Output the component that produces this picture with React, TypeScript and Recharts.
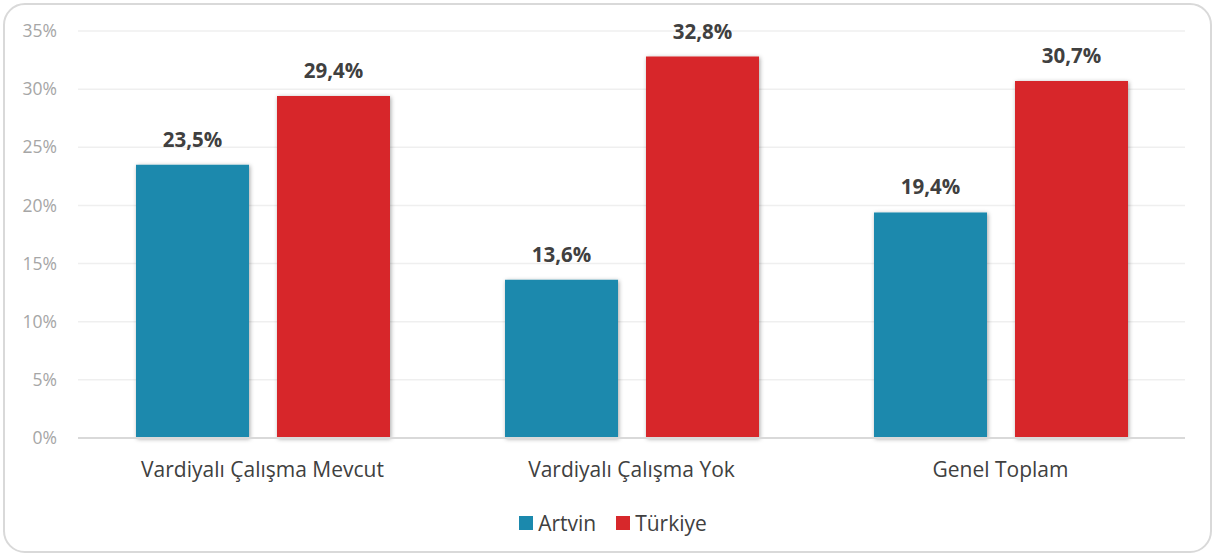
import React from 'react';
import {
  BarChart,
  Bar,
  XAxis,
  YAxis,
  CartesianGrid,
  Legend,
  LabelList,
} from 'recharts';

const categories = ['Vardiyalı Çalışma Mevcut', 'Vardiyalı Çalışma Yok', 'Genel Toplam'];
const artvin = [23.5, 13.6, 19.4];
const turkiye = [29.4, 32.8, 30.7];
const yTicks = [0, 5, 10, 15, 20, 25, 30, 35];

const data = categories.map((name, i) => ({
  name,
  artvin: artvin[i],
  turkiye: turkiye[i],
}));

const FONT = '"Open Sans", "Noto Sans", sans-serif';

const fmt = (v: any) => `${String(v).replace('.', ',')}%`;

// legend drawn by hand so the spacing matches
const renderLegend = (props: any) => (
  <div style={{ display: 'flex', justifyContent: 'center', alignItems: 'center', gap: 20, paddingLeft: 8 }}>
    {(props.payload || []).map((p: any) => (
      <div key={p.value} style={{ display: 'flex', alignItems: 'center', gap: 5 }}>
        <span style={{ width: 14, height: 14, background: p.color, display: 'inline-block' }} />
        <span style={{ color: '#404040', fontSize: 21, fontFamily: FONT }}>{p.value}</span>
      </div>
    ))}
  </div>
);

export default function App() {
  return (
    <div
      style={{
        position: 'absolute',
        left: 0,
        top: 0,
        width: 1218,
        height: 558,
        background: '#fff',
        fontFamily: FONT,
      }}
    >
      <div
        style={{
          position: 'absolute',
          left: 3,
          top: 3,
          width: 1209,
          height: 550,
          border: '2px solid #d9d9d9',
          borderRadius: 22,
          boxSizing: 'border-box',
        }}
      />
      <div style={{ position: 'absolute', left: 0, top: 0 }}>
        <BarChart
          width={1218}
          height={558}
          data={data}
          margin={{ top: 31, right: 33, left: 0, bottom: 60 }}
          barSize={113}
          barGap={28}
        >
          <defs>
            <filter id="shadow" x="-20%" y="-20%" width="140%" height="140%">
              <feDropShadow dx="1" dy="1" stdDeviation="2" floodColor="#000" floodOpacity="0.35" />
            </filter>
          </defs>
          <CartesianGrid vertical={false} stroke="#efefef" strokeWidth={1.5} />
          <XAxis
            dataKey="name"
            axisLine={{ stroke: '#d9d9d9', strokeWidth: 2 }}
            tickLine={false}
            tickMargin={18}
            tick={{ fill: '#404040', fontSize: 21, fontFamily: FONT }}
          />
          <YAxis
            width={78}
            domain={[0, 35]}
            ticks={yTicks}
            tickFormatter={(v) => `${v}%`}
            axisLine={false}
            tickLine={false}
            tickMargin={15}
            tick={{ fill: '#a6a6a6', fontSize: 17.5, fontFamily: FONT }}
          />
          <Legend
            verticalAlign="bottom"
            content={renderLegend}
            wrapperStyle={{ bottom: 19, left: 0, width: 1218, height: 30 }}
          />
          <Bar dataKey="artvin" name="Artvin" fill="#1b89ad" filter="url(#shadow)" isAnimationActive={false}>
            <LabelList
              dataKey="artvin"
              position="top"
              offset={18}
              formatter={fmt}
              style={{ fill: '#404040', fontSize: 20.5, fontWeight: 700, fontFamily: FONT }}
            />
          </Bar>
          <Bar dataKey="turkiye" name="Türkiye" fill="#d7282b" filter="url(#shadow)" isAnimationActive={false}>
            <LabelList
              dataKey="turkiye"
              position="top"
              offset={18}
              formatter={fmt}
              style={{ fill: '#404040', fontSize: 20.5, fontWeight: 700, fontFamily: FONT }}
            />
          </Bar>
        </BarChart>
      </div>
    </div>
  );
}
